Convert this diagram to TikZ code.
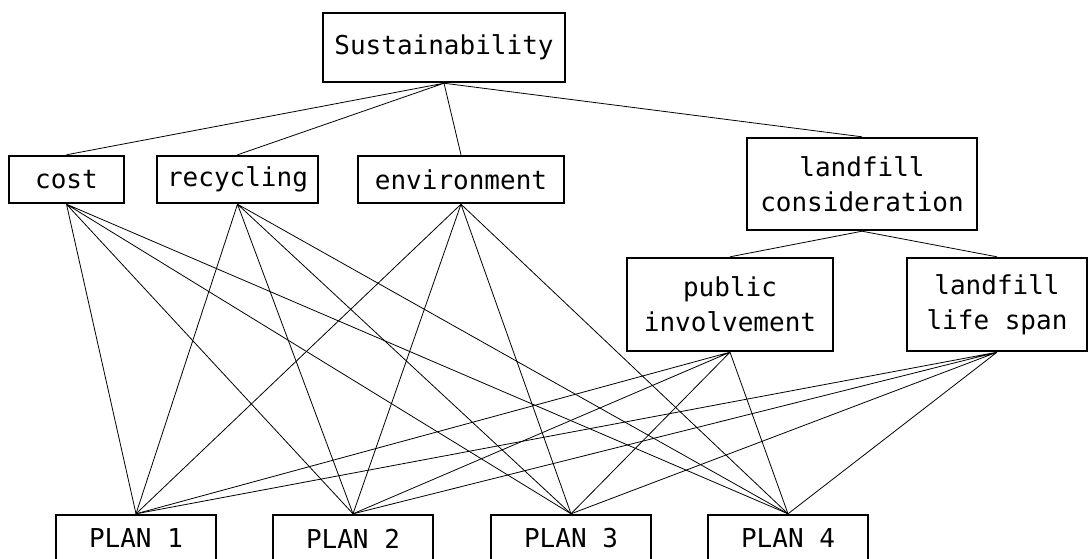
\documentclass[tikz,border=0pt]{standalone}
\usepackage{fontspec}
\newfontfamily\boxfont{DejaVu Sans Mono}

\begin{document}
\begin{tikzpicture}[x=0.75pt,y=0.75pt,yscale=-1,xscale=1,
  box/.style={draw, line width=1.8pt, inner sep=0pt, align=center,
    font=\boxfont\fontsize{19.5pt}{26pt}\selectfont},
  link/.style={line width=0.6pt}]
%set diagram: 1088 wide, 558 high
\useasboundingbox (0,0) rectangle (1088,558);

% Text Node
\node [box, minimum width=181.5pt, minimum height=51.75pt] (sust) at (444,47.5) {Sustainability};
% Text Node
\node [box, minimum width=86.25pt, minimum height=35.25pt] (cost) at (66.5,179.5) {cost};
% Text Node
\node [box, minimum width=120.75pt, minimum height=35.25pt] (recyc) at (237.5,179.5) {recycling};
% Text Node
\node [box, minimum width=154.5pt, minimum height=35.25pt] (envir) at (461,179.5) {environment};
% Text Node
\node [box, minimum width=172.5pt, minimum height=69pt] (landf) at (862,184) {landfill\\consideration};
% Text Node
\node [box, minimum width=154.5pt, minimum height=69.75pt] (public) at (730,304.5) {public\\involvement};
% Text Node
\node [box, minimum width=135pt, minimum height=69.75pt] (lifesp) at (997,304.5) {landfill\\life span};

% Plans
\node [box, minimum width=120pt, minimum height=35.25pt] (plan1) at (136,538.5) {PLAN 1};
\node [box, minimum width=120pt, minimum height=35.25pt] (plan2) at (353,538.5) {PLAN 2};
\node [box, minimum width=120pt, minimum height=35.25pt] (plan3) at (571,538.5) {PLAN 3};
\node [box, minimum width=120pt, minimum height=35.25pt] (plan4) at (788,538.5) {PLAN 4};

%Straight Lines: goal to criteria
\draw [link] (sust.south) -- (cost.north) (sust.south) -- (recyc.north) (sust.south) -- (envir.north) (sust.south) -- (landf.north);
%Straight Lines: landfill sub-criteria
\draw [link] (landf.south) -- (public.north) (landf.south) -- (lifesp.north);

%Straight Lines: cost
\draw [link] (cost.south) -- (plan1.north) (cost.south) -- (plan2.north) (cost.south) -- (plan3.north) (cost.south) -- (plan4.north);
%Straight Lines: recycling
\draw [link] (recyc.south) -- (plan1.north) (recyc.south) -- (plan2.north) (recyc.south) -- (plan3.north) (recyc.south) -- (plan4.north);
%Straight Lines: environment
\draw [link] (envir.south) -- (plan1.north) (envir.south) -- (plan2.north) (envir.south) -- (plan3.north) (envir.south) -- (plan4.north);
%Straight Lines: public involvement
\draw [link] (public.south) -- (plan1.north) (public.south) -- (plan2.north) (public.south) -- (plan3.north) (public.south) -- (plan4.north);
%Straight Lines: landfill life span
\draw [link] (lifesp.south) -- (plan1.north) (lifesp.south) -- (plan2.north) (lifesp.south) -- (plan3.north) (lifesp.south) -- (plan4.north);

\end{tikzpicture}
\end{document}
